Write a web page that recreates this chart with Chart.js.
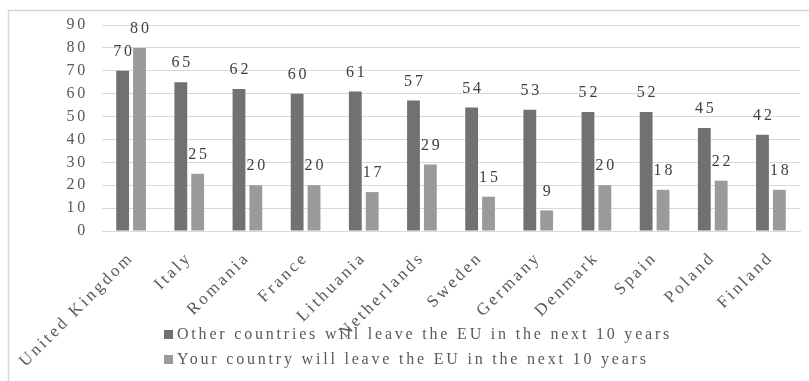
<!DOCTYPE html>
<html>
<head>
<meta charset="utf-8">
<script src="https://cdn.jsdelivr.net/npm/chart.js@4.4.1/dist/chart.umd.min.js"></script>
<style>
  html, body { margin: 0; padding: 0; background: #fff; }
  #wrap { position: relative; width: 809px; height: 381px; }
</style>
</head>
<body>
<div id="wrap"><canvas id="eu"></canvas></div>
<script>
const countries = ["United Kingdom", "Italy", "Romania", "France", "Lithuania", "Netherlands",
  "Sweden", "Germany", "Denmark", "Spain", "Poland", "Finland"];
const otherLeave = [70, 65, 62, 60, 61, 57, 54, 53, 52, 52, 45, 42];
const yourLeave = [80, 25, 20, 20, 17, 29, 15, 9, 20, 18, 22, 18];
const seriesNames = [
  "Other countries will leave the EU in the next 10 years",
  "Your country will leave the EU in the next 10 years"
];
const seriesColors = ["#717171", "#9a9a9a"];

const serif = "'Liberation Serif', 'Times New Roman', serif";
const spacing = 2.8;

// canvas letter spacing so the text looks like the original
const spacingPlugin = {
  id: "spacing",
  beforeLayout(chart) { chart.ctx.letterSpacing = spacing + "px"; },
  beforeDraw(chart) {
    const ctx = chart.ctx;
    ctx.letterSpacing = spacing + "px";
    ctx.save();
    ctx.strokeStyle = "#d6d6d6";
    ctx.lineWidth = 1.5;
    ctx.strokeRect(8.5, 10.5, 900, 500);
    ctx.restore();
  }
};

const valueLabels = {
  id: "valueLabels",
  afterDatasetsDraw(chart) {
    const ctx = chart.ctx;
    ctx.save();
    ctx.letterSpacing = spacing + "px";
    ctx.font = "16px " + serif;
    ctx.fillStyle = "#404040";
    ctx.textAlign = "left";
    ctx.textBaseline = "middle";
    chart.data.datasets.forEach((ds, i) => {
      chart.getDatasetMeta(i).data.forEach((bar, j) => {
        const txt = String(ds.data[j]);
        const w = ctx.measureText(txt).width - spacing;
        ctx.fillText(txt, bar.x - w / 2, bar.y - 19);
      });
    });
    ctx.restore();
  }
};

const bottomLegend = {
  id: "bottomLegend",
  afterDraw(chart) {
    const ctx = chart.ctx;
    ctx.save();
    ctx.letterSpacing = spacing + "px";
    ctx.font = "16px " + serif;
    ctx.textBaseline = "middle";
    ctx.textAlign = "left";
    chart.data.datasets.forEach((ds, i) => {
      const y = 334 + i * 25;
      ctx.fillStyle = ds.backgroundColor;
      ctx.fillRect(164, y - 4, 9, 9);
      ctx.fillStyle = "#595959";
      ctx.fillText(ds.label, 177, y + 1);
    });
    ctx.restore();
  }
};

new Chart(document.getElementById("eu").getContext("2d"), {
  type: "bar",
  data: {
    labels: countries,
    datasets: [
      { label: seriesNames[0], data: otherLeave, backgroundColor: seriesColors[0] },
      { label: seriesNames[1], data: yourLeave, backgroundColor: seriesColors[1] }
    ]
  },
  options: {
    responsive: true,
    maintainAspectRatio: false,
    animation: false,
    categoryPercentage: 0.58,
    barPercentage: 0.76,
    layout: { padding: { top: 25, right: 9, left: 0, bottom: 0 } },
    plugins: {
      legend: { display: false },
      tooltip: { enabled: false }
    },
    scales: {
      x: {
        grid: { display: false },
        border: { color: "#d9d9d9" },
        ticks: {
          color: "#595959",
          font: { family: serif, size: 17 },
          minRotation: 45,
          maxRotation: 45,
          padding: 9
        },
        afterFit(scale) { scale.height = 150; }
      },
      y: {
        min: 0,
        max: 90,
        ticks: {
          stepSize: 10,
          color: "#595959",
          font: { family: serif, size: 16 },
          padding: 14
        },
        grid: { color: "#d9d9d9", drawTicks: false },
        border: { display: false },
        afterFit(scale) { scale.width = 102; }
      }
    }
  },
  plugins: [spacingPlugin, valueLabels, bottomLegend]
});
</script>
</body>
</html>
